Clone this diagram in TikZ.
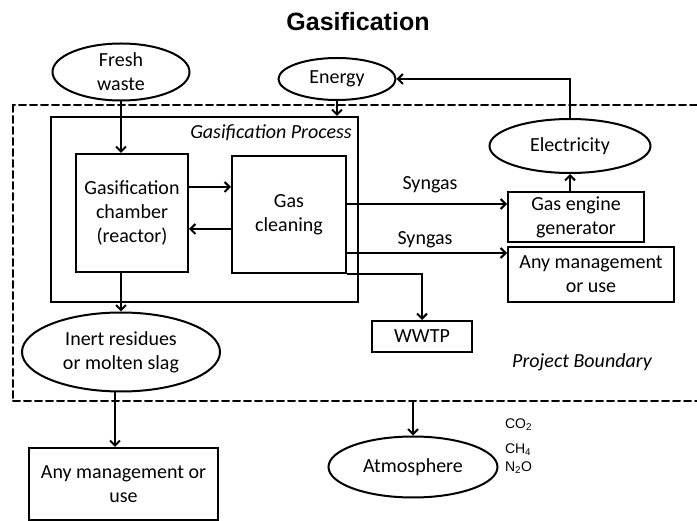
\documentclass[tikz,border=0pt]{standalone}
\usepackage{fontspec}
\setmainfont{Carlito}
\newfontfamily\arialfont{Liberation Sans}
\usepackage{tkz-euclide}
\usetikzlibrary{arrows.meta,shapes.geometric}

\begin{document}
\begin{tikzpicture}[x=1pt, y=-1pt, line width=2pt,
    >={Straight Barb[length=5pt,width=10pt]},
    font=\fontsize{20}{24}\selectfont,
    box/.style={draw, align=center, inner sep=0pt},
    oval/.style={draw, ellipse, align=center, inner sep=0pt, inner ysep=-8pt},
    note/.style={font=\fontsize{20}{24}\selectfont\itshape},
    gas/.style={font=\arialfont\fontsize{14}{16}\selectfont, anchor=west, inner sep=0pt}]
    \useasboundingbox (0,0) rectangle (697,521);
    \tkzDefPoints{697/105/P,13/105/Q,13/401/R,697/401/S}
    \tkzDrawSegments[dash pattern=on 7pt off 4pt, line width=2pt](P,Q Q,R R,S)
    \node[font=\arialfont\bfseries\fontsize{25}{30}\selectfont] (title) at (358,22) {Gasification};
    \node[oval, minimum width=137pt, minimum height=57pt] (fresh) at (121,72) {Fresh\\waste};
    \node[oval, minimum width=117pt, minimum height=42pt] (energy) at (337,79) {Energy};
    \node[box, minimum width=307pt, minimum height=185pt] (process) at (204.5,209.5) {};
    \node[note] (proclabel) at (271,133) {Gasification Process};
    \node[box, minimum width=112pt, minimum height=118pt] (chamber) at (132,213) {Gasification\\chamber\\(reactor)};
    \node[box, minimum width=114pt, minimum height=117pt] (cleaning) at (289,214.5) {Gas\\cleaning};
    \node[oval, minimum width=161pt, minimum height=54pt] (elec) at (570,146) {Electricity};
    \node[box, minimum width=136pt, minimum height=50pt] (engine) at (576,217) {Gas engine\\generator};
    \node[box, minimum width=166pt, minimum height=55pt] (anyuse) at (591,274.5) {Any management\\or use};
    \node[box, minimum width=100pt, minimum height=31pt] (wwtp) at (422,336.5) {WWTP};
    \node[oval, minimum width=198pt, minimum height=79pt] (inert) at (121,352) {Inert residues\\or molten slag};
    \node[note] (boundary) at (582,362) {Project Boundary};
    \node[box, minimum width=189pt, minimum height=72pt] (anyslag) at (123.5,484) {Any management or\\use};
    \node[oval, minimum width=169pt, minimum height=61pt] (atmos) at (413,467) {Atmosphere};
    \node (syn1) at (430,185) {Syngas};
    \node (syn2) at (425,240) {Syngas};
    \node[gas] (co2) at (504,425) {CO\textsubscript{2}};
    \node[gas] (ch4) at (504,450) {CH\textsubscript{4}};
    \node[gas] (n2o) at (504,468) {N\textsubscript{2}O};
    \draw[->] (fresh) -- (fresh |- chamber.north);
    \draw[->] (energy) -- (energy |- process.north);
    \draw[->] ([yshift=26pt]chamber.east) -- ([yshift=26pt]chamber.east -| cleaning.west);
    \draw[->] ([yshift=-14.5pt]cleaning.west) -- ([yshift=-14.5pt]cleaning.west -| chamber.east);
    \draw[->] ([yshift=13pt]engine.west -| cleaning.east) -- ([yshift=13pt]engine.west);
    \draw[->] ([yshift=21.5pt]anyuse.west -| cleaning.east) -- ([yshift=21.5pt]anyuse.west);
    \draw[->] (cleaning.south east) -| (wwtp.north);
    \draw[->] (engine.north -| elec.south) -- (elec.south);
    \draw[->] (elec.north) |- (energy.east);
    \draw[->] (inert.north |- chamber.south) -- (inert.north);
    \draw[->] ([xshift=-6pt]inert.south) -- ([xshift=-6pt]inert.south |- anyslag.north);
    \draw[->] (atmos.north |- R) -- (atmos.north);
\end{tikzpicture}
\end{document}
